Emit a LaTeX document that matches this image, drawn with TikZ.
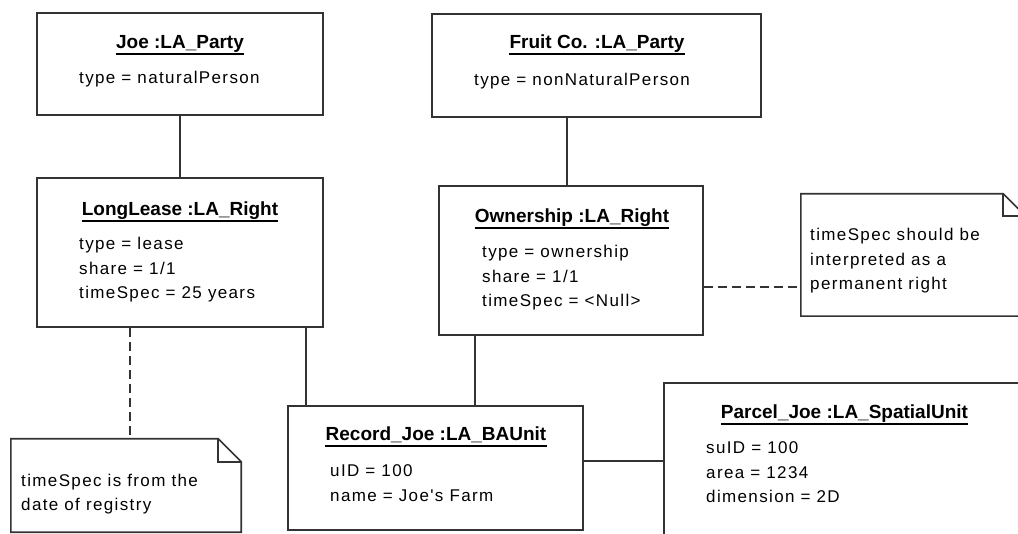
\documentclass[tikz,border=0pt]{standalone}
\usepackage{fontspec}
\setmainfont{Liberation Sans}
\newfontfamily\attrfont[LetterSpace=8]{Liberation Sans}
\definecolor{linec}{HTML}{333333}
\newcommand{\objattrs}[1]{\begin{tabular}[t]{@{}l@{}}#1\end{tabular}}
\tikzset{
  objbox/.style={draw=linec, line width=1.6pt, rectangle, inner sep=0pt},
  notebox/.style={rectangle, inner sep=0pt},
  conn/.style={draw=linec, line width=1.6pt},
  dashconn/.style={conn, dash pattern=on 9pt off 5pt},
  ttl/.style={anchor=base, inner sep=0pt, font=\fontsize{19}{23}\selectfont\bfseries},
  attr/.style={anchor=base west, inner sep=0pt, font=\attrfont\fontsize{17}{24.5}\selectfont},
  uline/.style={draw=black, line width=1.5pt}
}
\begin{document}
\begin{tikzpicture}[x=1pt, y=-1pt]
\useasboundingbox (0,0) rectangle (1018,534);
\clip (0,0) rectangle (1018,534);
\fill[white] (0,0) rectangle (1018,534);

% object boxes
\node[objbox, minimum width=286pt, minimum height=102pt] (joe) at (180,64) {};
\node[objbox, minimum width=286pt, minimum height=149pt] (lease) at (180,252.5) {};
\node[objbox, minimum width=329pt, minimum height=103pt] (fruit) at (596.5,65.5) {};
\node[objbox, minimum width=264pt, minimum height=149pt] (own) at (571,260.5) {};
\node[objbox, minimum width=295pt, minimum height=124pt] (rec) at (435.5,468) {};
\node[objbox, minimum width=361pt, minimum height=177pt] (parcel) at (844.5,471.5) {};

% notes
\node[notebox, minimum width=224pt, minimum height=122pt] (note1) at (913,255) {};
\draw[conn] (note1.north west) -- ([xshift=-22pt]note1.north east) -- ([yshift=-22pt]note1.north east) -- (note1.south east) -- (note1.south west) -- cycle;
\draw[conn] ([xshift=-22pt]note1.north east) |- ([yshift=-22pt]note1.north east);
\node[notebox, minimum width=230pt, minimum height=93pt] (note2) at (126,485.5) {};
\draw[conn] (note2.north west) -- ([xshift=-23pt]note2.north east) -- ([yshift=-23pt]note2.north east) -- (note2.south east) -- (note2.south west) -- cycle;
\draw[conn] ([xshift=-23pt]note2.north east) |- ([yshift=-23pt]note2.north east);

% titles
\node[ttl] (joet) at (180,49) {Joe :LA\_Party};
\node[ttl] (leaset) at (180,216) {LongLease :LA\_Right};
\node[ttl] (fruitt) at (597,49) {Fruit Co. :LA\_Party};
\node[ttl] (ownt) at (572,223) {Ownership :LA\_Right};
\node[ttl] (rect) at (436,441) {Record\_Joe :LA\_BAUnit};
\node[ttl] (parcelt) at (844.5,419) {Parcel\_Joe :LA\_SpatialUnit};
\foreach \t in {joet,leaset,fruitt,ownt,rect,parcelt}{
  \draw[uline] ([yshift=-5pt]\t.base west) -- ([yshift=-5pt]\t.base east);
}

% attributes
\node[attr] (joea) at (79,84) {\objattrs{type = naturalPerson}};
\node[attr] (leasea) at (79,250) {\objattrs{type = lease\\share = 1/1\\timeSpec = 25 years}};
\node[attr] (fruita) at (474,86) {\objattrs{type = nonNaturalPerson}};
\node[attr] (owna) at (482,258) {\objattrs{type = ownership\\share = 1/1\\timeSpec = <Null>}};
\node[attr] (reca) at (330,477) {\objattrs{uID = 100\\name = Joe's Farm}};
\node[attr] (parcela) at (706,454) {\objattrs{suID = 100\\area = 1234\\dimension = 2D}};
\node[attr] (note1a) at (810,241) {\objattrs{timeSpec should be\\interpreted as a\\permanent right}};
\node[attr] (note2a) at (21,486) {\objattrs{timeSpec is from the\\date of registry}};

% connectors
\draw[conn] (joe.south) -- (lease.north);
\draw[conn] ([xshift=-4pt]own.north) -- ([xshift=-4pt]own.north |- fruit.south);
\draw[conn] ([xshift=19pt]rec.north west) -- ([xshift=19pt]rec.north west |- lease.south);
\draw[conn] ([xshift=37pt]own.south west) -- ([xshift=37pt]own.south west |- rec.north);
\draw[conn] ([yshift=7pt]rec.east) -- ([yshift=7pt]rec.east -| parcel.west);
\draw[dashconn] ([xshift=-50pt]lease.south) -- ([xshift=-50pt]lease.south |- note2.north);
\draw[dashconn] ([yshift=-26.5pt]own.east) -- ([yshift=-26.5pt]own.east -| note1.west);
\end{tikzpicture}
\end{document}
